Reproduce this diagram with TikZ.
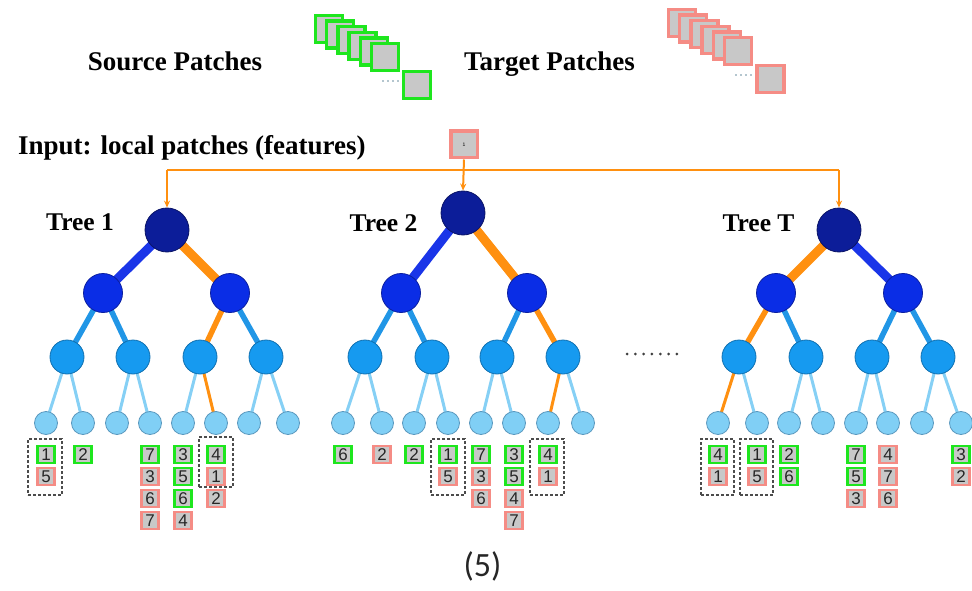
\documentclass[tikz,border=0pt]{standalone}
\usepackage{fontspec}
\setmainfont{Liberation Serif}
\newfontfamily\numfont{Liberation Sans}
\newfontfamily\capfont{Carlito}
\usetikzlibrary{arrows.meta,backgrounds}
\definecolor{cRoot}{HTML}{0C1D99}
\definecolor{cRootD}{HTML}{0A1466}
\definecolor{cMid}{HTML}{0A2DE6}
\definecolor{cMidD}{HTML}{0A1FA0}
\definecolor{cLow}{HTML}{169AF0}
\definecolor{cLowD}{HTML}{1070B0}
\definecolor{cLeaf}{HTML}{80CFF5}
\definecolor{cLeafD}{HTML}{5A98BE}
\definecolor{cE1}{HTML}{1A35E8}
\definecolor{cE2}{HTML}{2196E6}
\definecolor{cE3}{HTML}{86D0F5}
\definecolor{cOr}{HTML}{FF9010}
\definecolor{cGreen}{HTML}{1EE61E}
\definecolor{cPink}{HTML}{F58C85}
\definecolor{cGray}{HTML}{C8C8C8}
\newcommand\patchat[5]{\node[#4] (#1) at (#2,{454.3+22.1*(#3-1)}) {#5};}
\begin{document}
\begin{tikzpicture}[x=1pt,y=-1pt,
  rootn/.style={circle, fill=cRoot, draw=cRootD, line width=0.8pt, minimum size=44pt, inner sep=0},
  midn/.style={circle, fill=cMid, draw=cMidD, line width=0.8pt, minimum size=39pt, inner sep=0},
  lown/.style={circle, fill=cLow, draw=cLowD, line width=0.8pt, minimum size=34pt, inner sep=0},
  leafn/.style={circle, fill=cLeaf, draw=cLeafD, line width=0.8pt, minimum size=23pt, inner sep=0},
  ea/.style={line width=9pt, draw=cE1},
  eb/.style={line width=5.5pt, draw=cE2},
  ec/.style={line width=3pt, draw=cE3},
  oa/.style={line width=9pt, draw=cOr},
  ob/.style={line width=5.5pt, draw=cOr},
  oc/.style={line width=3pt, draw=cOr},
  feed/.style={line width=2pt, draw=cOr},
  feedarr/.style={feed, -{Stealth[length=7pt,width=6pt]}},
  gp/.style={rectangle, fill=cGray, draw=cGreen, line width=2.5pt, minimum size=17pt, inner sep=0, font=\numfont\fontsize{17}{17}\selectfont, text=black!85},
  rp/.style={gp, draw=cPink},
  lgg/.style={rectangle, fill=cGray, draw=cGreen, line width=3.5pt, minimum size=27pt, inner sep=0},
  lgr/.style={lgg, draw=cPink},
  dbox/.style={rectangle, draw=black!70, line width=1.3pt, dash pattern=on 3pt off 2pt, minimum width=34pt, inner sep=0},
  hdr/.style={font=\bfseries\fontsize{27}{27}\selectfont, inner sep=0},
  treelab/.style={font=\bfseries\fontsize{25.5}{25.5}\selectfont, inner sep=0, anchor=base}
]
\useasboundingbox (0,0) rectangle (972,591);

% ---------- legend ----------
\node[hdr, anchor=base] (srclab) at (175,71) {Source Patches};
\node[hdr, anchor=base] (tgtlab) at (549.5,71) {Target Patches};
\foreach \i in {0,...,5} {
  \node[lgg] (sg\i) at ({329+11.2*\i},{29+5.6*\i}) {};
}
\node[lgg] (sgl) at (417,85) {};
\foreach \i in {0,...,3} \fill[black!30!cE3!70!gray] ({383+5*\i},81) circle (0.9pt);
\foreach \i in {0,...,5} {
  \node[lgr] (tg\i) at ({682+11.2*\i},{23+5.6*\i}) {};
}
\node[lgr] (tgl) at (770.5,79) {};
\foreach \i in {0,...,3} \fill[black!30!cE3!70!gray] ({736+5*\i},75) circle (0.9pt);

% ---------- input ----------
\node[hdr, anchor=base west] (inlab) at (18,154) {Input: local patches (features)};
\node[rectangle, fill=cGray, draw=cPink, line width=3.5pt, minimum size=26.5pt, inner sep=0,
      font=\numfont\fontsize{5}{5}\selectfont] (inp) at (464,144.5) {1};

% ---------- tree labels ----------
\node[treelab] (lab1) at (80,230) {Tree 1};
\node[treelab] (lab2) at (383.5,231) {Tree 2};
\node[treelab] (labT) at (758.5,231) {Tree T};

% ---------- tree 1 ----------
\node[rootn] (r1) at (167,230) {};
\node[midn] (a1) at (103,293) {};
\node[midn] (b1) at (230,293) {};
\node[lown] (c1) at (67,357) {};
\node[lown] (d1) at (133,357) {};
\node[lown] (e1) at (200,357) {};
\node[lown] (f1) at (266,357) {};
\foreach \n/\x in {1/46,2/83,3/117,4/150,5/183,6/216,7/249,8/288}
  \node[leafn] (l1\n) at (\x,423) {};

% ---------- tree 2 ----------
\node[rootn] (r2) at (463,213) {};
\node[midn] (a2) at (401,293) {};
\node[midn] (b2) at (527,293) {};
\node[lown] (c2) at (365,357) {};
\node[lown] (d2) at (432,357) {};
\node[lown] (e2) at (497,357) {};
\node[lown] (f2) at (563,357) {};
\foreach \n/\x in {1/343,2/382,3/414,4/448,5/481,6/514,7/548,8/583}
  \node[leafn] (l2\n) at (\x,423) {};

% ---------- tree T ----------
\node[rootn] (r3) at (839,230) {};
\node[midn] (a3) at (776,293) {};
\node[midn] (b3) at (903,293) {};
\node[lown] (c3) at (739,357) {};
\node[lown] (d3) at (806,357) {};
\node[lown] (e3) at (872,357) {};
\node[lown] (f3) at (938,357) {};
\foreach \n/\x in {1/718,2/757,3/789,4/823,5/856,6/888,7/922,8/961}
  \node[leafn] (l3\n) at (\x,423) {};

% ---------- edges ----------
\begin{scope}[on background layer]
  % tree 1
  \draw[ea] (r1.center) -- (a1.center);
  \draw[oa] (r1.center) -- (b1.center);
  \draw[eb] (a1.center) -- (c1.center);
  \draw[eb] (a1.center) -- (d1.center);
  \draw[ob] (b1.center) -- (e1.center);
  \draw[eb] (b1.center) -- (f1.center);
  \draw[ec] (c1.center) -- (l11.center);
  \draw[ec] (c1.center) -- (l12.center);
  \draw[ec] (d1.center) -- (l13.center);
  \draw[ec] (d1.center) -- (l14.center);
  \draw[ec] (e1.center) -- (l15.center);
  \draw[oc] (e1.center) -- (l16.center);
  \draw[ec] (f1.center) -- (l17.center);
  \draw[ec] (f1.center) -- (l18.center);
  % tree 2
  \draw[ea] (r2.center) -- (a2.center);
  \draw[oa] (r2.center) -- (b2.center);
  \draw[eb] (a2.center) -- (c2.center);
  \draw[eb] (a2.center) -- (d2.center);
  \draw[eb] (b2.center) -- (e2.center);
  \draw[ob] (b2.center) -- (f2.center);
  \draw[ec] (c2.center) -- (l21.center);
  \draw[ec] (c2.center) -- (l22.center);
  \draw[ec] (d2.center) -- (l23.center);
  \draw[ec] (d2.center) -- (l24.center);
  \draw[ec] (e2.center) -- (l25.center);
  \draw[ec] (e2.center) -- (l26.center);
  \draw[oc] (f2.center) -- (l27.center);
  \draw[ec] (f2.center) -- (l28.center);
  % tree T
  \draw[oa] (r3.center) -- (a3.center);
  \draw[ea] (r3.center) -- (b3.center);
  \draw[ob] (a3.center) -- (c3.center);
  \draw[eb] (a3.center) -- (d3.center);
  \draw[eb] (b3.center) -- (e3.center);
  \draw[eb] (b3.center) -- (f3.center);
  \draw[oc] (c3.center) -- (l31.center);
  \draw[ec] (c3.center) -- (l32.center);
  \draw[ec] (d3.center) -- (l33.center);
  \draw[ec] (d3.center) -- (l34.center);
  \draw[ec] (e3.center) -- (l35.center);
  \draw[ec] (e3.center) -- (l36.center);
  \draw[ec] (f3.center) -- (l37.center);
  \draw[ec] (f3.center) -- (l38.center);
\end{scope}

% ---------- feed lines ----------
\coordinate (jn) at (464,170);
\draw[feed] (r1.north |- jn) -- (r3.north |- jn);
\draw[feedarr] (r1.north |- jn) -- (r1.north);
\draw[feedarr] (r3.north |- jn) -- (r3.north);
\draw[feedarr] (inp.south) -- (r2.north);

% ---------- dots between trees ----------
\foreach \i in {0,...,6} \fill[black!75] ({627+8.33*\i},354) circle (1.5pt);

% ---------- leaf patches: tree 1 ----------
\patchat{p11a}{46}{1}{gp}{1}
\patchat{p11b}{46}{2}{rp}{5}
\patchat{p12a}{83}{1}{gp}{2}
\patchat{p14a}{150}{1}{gp}{7}
\patchat{p14b}{150}{2}{rp}{3}
\patchat{p14c}{150}{3}{rp}{6}
\patchat{p14d}{150}{4}{rp}{7}
\patchat{p15a}{183}{1}{gp}{3}
\patchat{p15b}{183}{2}{gp}{5}
\patchat{p15c}{183}{3}{gp}{6}
\patchat{p15d}{183}{4}{rp}{4}
\patchat{p16a}{216}{1}{gp}{4}
\patchat{p16b}{216}{2}{rp}{1}
\patchat{p16c}{216}{3}{rp}{2}
\node[dbox, minimum height=56pt] (db11) at (45,467) {};
\node[dbox, minimum height=50pt] (db16) at (216,462) {};

% ---------- leaf patches: tree 2 ----------
\patchat{p21a}{343}{1}{gp}{6}
\patchat{p22a}{382}{1}{rp}{2}
\patchat{p23a}{414}{1}{gp}{2}
\patchat{p24a}{448}{1}{gp}{1}
\patchat{p24b}{448}{2}{rp}{5}
\patchat{p25a}{481}{1}{gp}{7}
\patchat{p25b}{481}{2}{rp}{3}
\patchat{p25c}{481}{3}{rp}{6}
\patchat{p26a}{514}{1}{gp}{3}
\patchat{p26b}{514}{2}{gp}{5}
\patchat{p26c}{514}{3}{rp}{4}
\patchat{p26d}{514}{4}{rp}{7}
\patchat{p27a}{548}{1}{gp}{4}
\patchat{p27b}{548}{2}{rp}{1}
\node[dbox, minimum height=56pt] (db24) at (448,467) {};
\node[dbox, minimum height=56pt] (db27) at (547,467) {};

% ---------- leaf patches: tree T ----------
\patchat{p31a}{718}{1}{gp}{4}
\patchat{p31b}{718}{2}{rp}{1}
\patchat{p32a}{757}{1}{gp}{1}
\patchat{p32b}{757}{2}{rp}{5}
\patchat{p33a}{789}{1}{gp}{2}
\patchat{p33b}{789}{2}{gp}{6}
\patchat{p35a}{856}{1}{gp}{7}
\patchat{p35b}{856}{2}{gp}{5}
\patchat{p35c}{856}{3}{rp}{3}
\patchat{p36a}{888}{1}{rp}{4}
\patchat{p36b}{888}{2}{rp}{7}
\patchat{p36c}{888}{3}{rp}{6}
\patchat{p38a}{961}{1}{gp}{3}
\patchat{p38b}{961}{2}{rp}{2}
\node[dbox, minimum height=56pt, minimum width=33pt] (db31) at (717.5,467) {};
\node[dbox, minimum height=56pt, minimum width=33pt] (db32) at (756.5,467) {};

% ---------- caption ----------
\node[font=\capfont\fontsize{34}{34}\selectfont, inner sep=0, text=black!85] (cap) at (482.5,566) {(5)};
\end{tikzpicture}
\end{document}
